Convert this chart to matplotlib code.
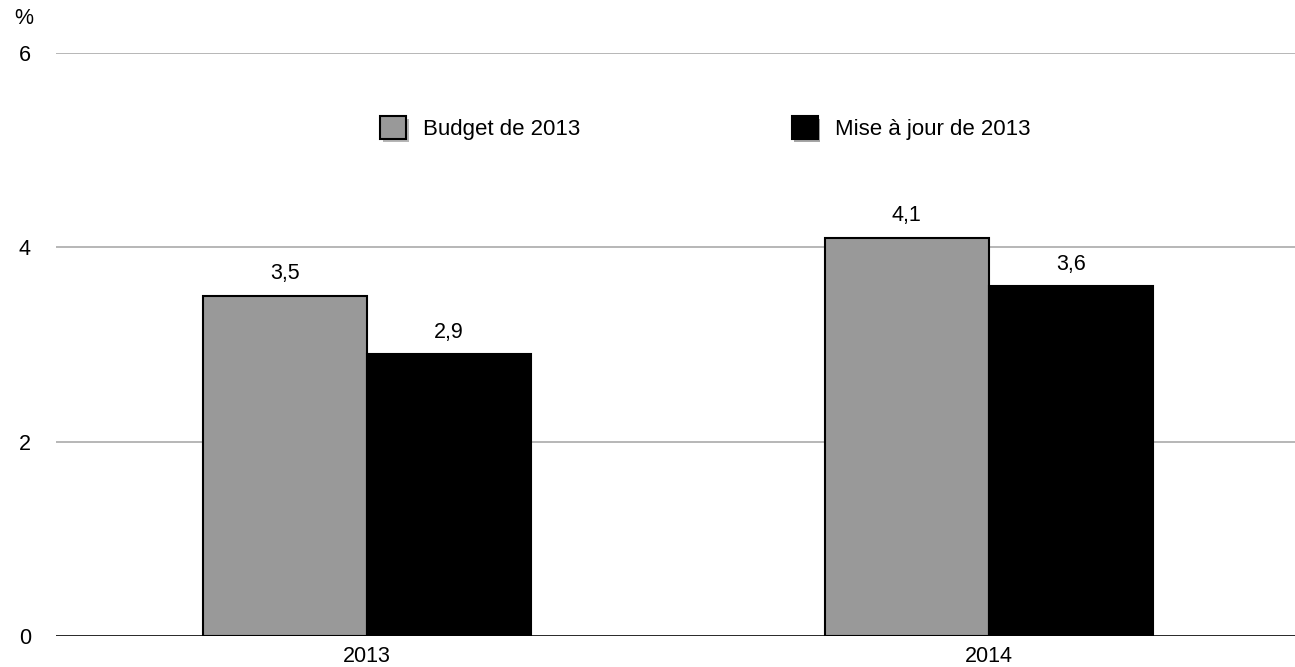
import matplotlib.pyplot as plt
import matplotlib.patheffects as pe
import numpy as np

years = ["2013", "2014"]
budget = [3.5, 4.1]
mise_a_jour = [2.9, 3.6]
labels = ["Budget de 2013", "Mise à jour de 2013"]

plt.rcParams['font.family'] = ['Liberation Sans', 'DejaVu Sans']

fig = plt.figure(figsize=(12.95, 6.67), dpi=100)
ax = fig.add_axes([0.0432, 0.0465, 0.9568, 0.874])

x = np.arange(len(years))
w = 0.264
b1 = ax.bar(x - w / 2, budget, w, color='#999999', edgecolor='black', linewidth=1.5, label=labels[0], zorder=3)
b2 = ax.bar(x + w / 2, mise_a_jour, w, color='black', edgecolor='black', linewidth=1.5, label=labels[1], zorder=3)

for bars, vals in ((b1, budget), (b2, mise_a_jour)):
    for r, v in zip(bars, vals):
        ax.text(r.get_x() + r.get_width() / 2, v + 0.12, f"{v:.1f}".replace('.', ','),
                ha='center', va='bottom', fontsize=15.5)

ax.set_xlim(-0.5, 1.492)
ax.set_ylim(0, 6)
ax.set_yticks([0, 2, 4, 6])
ax.set_xticks(x)
ax.set_xticklabels(years)
ax.tick_params(axis='both', length=0, labelsize=15.5)
ax.tick_params(axis='y', pad=18)
ax.tick_params(axis='x', pad=7)
ax.yaxis.grid(True, color='#aaaaaa', linewidth=1.2, zorder=0)
ax.axhline(0, color='black', linewidth=1.8, zorder=4)
for s in ax.spines.values():
    s.set_visible(False)

fig.text(24 / 1295, 1 - 19 / 667, "%", fontsize=15.5, ha='center', va='center')

leg = ax.legend(loc='center', bbox_to_anchor=(0.524, 0.871), ncol=2, frameon=False,
                fontsize=16, handlelength=1.17, handleheight=1.17, columnspacing=9.5,
                handletextpad=0.77)
for h in leg.legend_handles:
    h.set_path_effects([pe.SimplePatchShadow(offset=(2, -2), alpha=0.35), pe.Normal()])

fig.savefig("out.png", dpi=100)
